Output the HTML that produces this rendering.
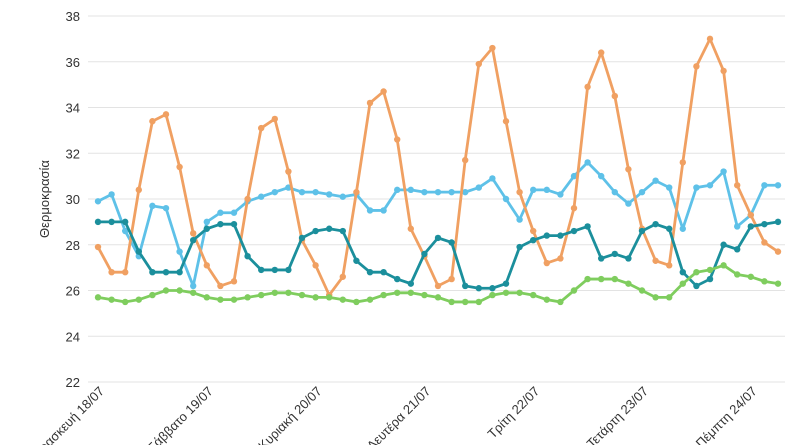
<!DOCTYPE html>
<html><head><meta charset="utf-8"><style>
body{margin:0;background:#fff}
svg{display:block;font-family:"Liberation Sans","DejaVu Sans",sans-serif}
</style></head><body>
<svg id="chart" width="800" height="445" viewBox="0 0 800 445">
<g id="grid"></g><g id="yticks"></g><g id="xticks"></g><g id="series"></g>
<text transform="translate(49,199) rotate(-90)" text-anchor="middle" font-size="13" fill="#333">Θερμοκρασία</text>
</svg>
<script>
const dayLabels=["Παρασκευή 18/07","Σάββατο 19/07","Κυριακή 20/07","Δευτέρα 21/07","Τρίτη 22/07","Τετάρτη 23/07","Πέμπτη 24/07"];
const yTicks=[22,24,26,28,30,32,34,36,38];
const orange=[27.9,26.8,26.8,30.4,33.4,33.7,31.4,28.5,27.1,26.2,26.4,30.0,33.1,33.5,31.2,28.2,27.1,25.8,26.6,30.3,34.2,34.7,32.6,28.7,27.5,26.2,26.5,31.7,35.9,36.6,33.4,30.3,28.6,27.2,27.4,29.6,34.9,36.4,34.5,31.3,28.7,27.3,27.1,31.6,35.8,37.0,35.6,30.6,29.3,28.1,27.7];
const lightBlue=[29.9,30.2,28.6,27.5,29.7,29.6,27.7,26.2,29.0,29.4,29.4,29.9,30.1,30.3,30.5,30.3,30.3,30.2,30.1,30.2,29.5,29.5,30.4,30.4,30.3,30.3,30.3,30.3,30.5,30.9,30.0,29.1,30.4,30.4,30.2,31.0,31.6,31.0,30.3,29.8,30.3,30.8,30.5,28.7,30.5,30.6,31.2,28.8,29.3,30.6,30.6];
const teal=[29.0,29.0,29.0,27.7,26.8,26.8,26.8,28.2,28.7,28.9,28.9,27.5,26.9,26.9,26.9,28.3,28.6,28.7,28.6,27.3,26.8,26.8,26.5,26.3,27.6,28.3,28.1,26.2,26.1,26.1,26.3,27.9,28.2,28.4,28.4,28.6,28.8,27.4,27.6,27.4,28.6,28.9,28.7,26.8,26.2,26.5,28.0,27.8,28.8,28.9,29.0];
const green=[25.7,25.6,25.5,25.6,25.8,26.0,26.0,25.9,25.7,25.6,25.6,25.7,25.8,25.9,25.9,25.8,25.7,25.7,25.6,25.5,25.6,25.8,25.9,25.9,25.8,25.7,25.5,25.5,25.5,25.8,25.9,25.9,25.8,25.6,25.5,26.0,26.5,26.5,26.5,26.3,26.0,25.7,25.7,26.3,26.8,26.9,27.1,26.7,26.6,26.4,26.3];
const NS="http://www.w3.org/2000/svg";
const x0=98,dx=13.6,gl=88,gr=785;
const xs=i=>x0+i*dx;
const ys=v=>382-(v-22)*22.875;
function mk(t,a,p){const e=document.createElementNS(NS,t);for(const k in a)e.setAttribute(k,a[k]);p.appendChild(e);return e;}
const grid=document.getElementById('grid'),yt=document.getElementById('yticks'),xt=document.getElementById('xticks'),sr=document.getElementById('series');
yTicks.forEach(v=>{
  const l=mk('line',{x1:gl,x2:gr,y1:ys(v),y2:ys(v),stroke:'#e3e3e3','stroke-width':1},grid);
  
  
  const t=mk('text',{x:80,y:ys(v)+5,'text-anchor':'end','font-size':13,fill:'#333'},yt);
  t.textContent=v;
  
  
});
dayLabels.forEach((d,i)=>{
  const x=xs(i*8)+7,y=392;
  const t=mk('text',{x:x,y:y,'text-anchor':'end','font-size':13,fill:'#333',transform:`rotate(-45 ${x} ${y})`},xt);
  t.textContent=d;
  
  
});
[[lightBlue,'#5ec1e8','series-light-blue'],[orange,'#f0a062','series-orange'],[teal,'#1b8f9c','series-teal'],[green,'#7fcd5e','series-green']].forEach(([arr,c,n])=>{
  const g=mk('g',{},sr);
  
  
  const p=mk('polyline',{points:arr.map((v,i)=>xs(i)+','+ys(v)).join(' '),fill:'none',stroke:c,'stroke-width':2.8,'stroke-linejoin':'round'},g);
  
  
  arr.forEach((v,i)=>{
    const d=mk('circle',{cx:xs(i),cy:ys(v),r:3.2,fill:c},g);
    
    
  });
});
</script>
</body></html>
